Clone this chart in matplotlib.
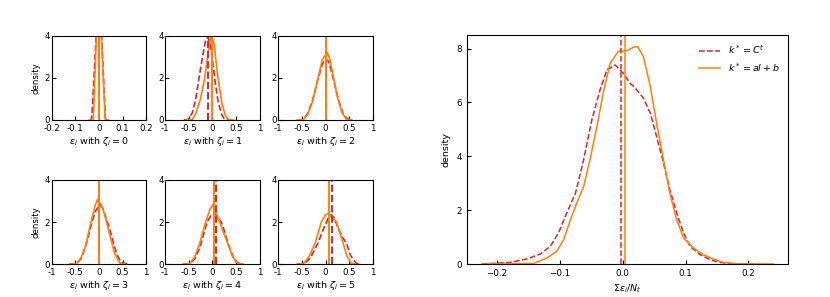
import numpy as np
import matplotlib
matplotlib.use("Agg")
import matplotlib.pyplot as plt

# density curves per panel
zeta = [0, 1, 2, 3, 4, 5]

red_x = [
    [-0.04, -0.033, -0.030, -0.012, -0.007, -0.001, 0.006, 0.011, 0.027, 0.030, 0.04],
    [-0.6, -0.51, -0.42, -0.35, -0.28, -0.2, -0.14, -0.09, -0.04, 0.05, 0.12, 0.2, 0.26, 0.35],
    [-0.6, -0.48, -0.38, -0.28, -0.16, -0.07, 0.0, 0.06, 0.12, 0.19, 0.28, 0.37, 0.46, 0.58],
    [-0.62, -0.48, -0.38, -0.28, -0.16, -0.08, -0.02, 0.03, 0.08, 0.15, 0.22, 0.3, 0.38, 0.47, 0.6],
    [-0.6, -0.47, -0.37, -0.26, -0.11, -0.03, 0.03, 0.08, 0.13, 0.19, 0.26, 0.33, 0.42, 0.5, 0.6],
    [-0.6, -0.45, -0.32, -0.16, -0.03, 0.06, 0.12, 0.18, 0.26, 0.35, 0.44, 0.53, 0.65, 0.75],
]
red_y = [
    [0, 0, 0.2, 4.0, 14, 24, 14, 4.0, 0.1, 0, 0],
    [0, 0.02, 0.35, 1.0, 2.0, 3.1, 3.8, 3.95, 3.6, 2.0, 0.9, 0.25, 0.03, 0],
    [0, 0.02, 0.3, 0.9, 1.95, 2.65, 2.9, 2.8, 2.35, 1.7, 0.9, 0.3, 0.05, 0],
    [0, 0.02, 0.25, 0.85, 1.9, 2.5, 2.7, 2.8, 2.65, 2.2, 1.7, 1.05, 0.45, 0.07, 0],
    [0, 0.02, 0.25, 0.8, 2.0, 2.3, 2.35, 2.38, 2.15, 2.0, 1.55, 1.0, 0.45, 0.1, 0],
    [0, 0.02, 0.3, 1.0, 1.75, 2.2, 2.34, 2.2, 1.75, 1.3, 1.0, 0.4, 0.03, 0],
]
orange_x = [
    [-0.04, -0.026, -0.024, -0.011, -0.006, 0.0, 0.006, 0.010, 0.026, 0.028, 0.04],
    [-0.55, -0.42, -0.35, -0.25, -0.16, -0.08, -0.02, 0.04, 0.12, 0.2, 0.27, 0.33, 0.37, 0.45],
    [-0.6, -0.47, -0.38, -0.28, -0.16, -0.07, -0.02, 0.01, 0.04, 0.09, 0.17, 0.26, 0.35, 0.44, 0.55],
    [-0.62, -0.47, -0.38, -0.28, -0.17, -0.08, -0.03, 0.0, 0.04, 0.1, 0.16, 0.25, 0.33, 0.44, 0.55],
    [-0.62, -0.48, -0.38, -0.27, -0.14, -0.05, 0.01, 0.05, 0.08, 0.14, 0.22, 0.33, 0.43, 0.54, 0.65],
    [-0.6, -0.47, -0.35, -0.22, -0.09, 0.0, 0.07, 0.13, 0.23, 0.3, 0.37, 0.45, 0.54, 0.62],
]
orange_y = [
    [0, 0, 0.1, 4.0, 15, 25, 15, 4.0, 0.1, 0, 0],
    [0, 0.02, 0.3, 1.0, 2.0, 3.3, 4.1, 3.6, 2.0, 0.85, 0.25, 0.05, 0.01, 0],
    [0, 0.02, 0.25, 0.85, 2.0, 2.85, 3.05, 3.05, 3.2, 2.9, 2.0, 1.0, 0.35, 0.04, 0],
    [0, 0.02, 0.3, 0.9, 2.0, 2.8, 3.08, 2.85, 2.88, 2.5, 2.0, 1.2, 0.5, 0.05, 0],
    [0, 0.02, 0.3, 0.95, 2.0, 2.6, 2.82, 2.55, 2.4, 2.1, 1.6, 0.95, 0.35, 0.03, 0],
    [0, 0.02, 0.35, 1.0, 2.0, 2.35, 2.42, 2.25, 2.0, 1.5, 1.0, 0.4, 0.03, 0],
]
red_mean = [-0.002, -0.10, 0.0, 0.005, 0.075, 0.13]
orange_mean = [0.0, 0.0, 0.0, 0.005, 0.04, 0.07]

# total error
tot_red_x = [-0.224, -0.179, -0.152, -0.131, -0.115, -0.102, -0.089, -0.075, -0.062, -0.049,
             -0.036, -0.025, -0.012, 0.001, 0.012, 0.020, 0.033, 0.044, 0.054, 0.065,
             0.075, 0.086, 0.097, 0.107, 0.123, 0.139, 0.155, 0.176, 0.208]
tot_red_y = [0.0, 0.06, 0.19, 0.37, 0.66, 1.15, 1.89, 2.63, 3.87, 5.35,
             6.46, 7.21, 7.39, 7.08, 6.71, 6.53, 6.16, 5.60, 4.73, 3.75,
             2.76, 1.89, 1.15, 0.66, 0.35, 0.16, 0.06, 0.01, 0.0]
tot_orange_x = [-0.224, -0.142, -0.121, -0.105, -0.094, -0.083, -0.073, -0.062, -0.052, -0.041,
                -0.031, -0.020, -0.007, 0.007, 0.017, 0.024, 0.033, 0.044, 0.054, 0.065,
                0.075, 0.086, 0.097, 0.113, 0.128, 0.144, 0.160, 0.181, 0.240]
tot_orange_y = [0.0, 0.02, 0.22, 0.47, 0.90, 1.64, 2.26, 2.88, 3.87, 5.10,
                6.34, 7.45, 7.89, 7.92, 8.05, 8.07, 7.70, 6.59, 5.23, 3.87,
                2.63, 1.64, 0.96, 0.59, 0.35, 0.19, 0.06, 0.01, 0.0]
tot_red_mean = -0.003
tot_orange_mean = 0.004

RED = "#d62728"
ORANGE = "#ff7f0e"

fig = plt.figure(figsize=(8.3, 2.97), dpi=100)

lefts = [0.0623, 0.1988, 0.3353]
bottoms = [0.596, 0.111]
w, h = 0.1139, 0.283

for i, z in enumerate(zeta):
    row, col = divmod(i, 3)
    ax = fig.add_axes([lefts[col], bottoms[row], w, h])
    ax.plot(red_x[i], red_y[i], "--", color=RED, lw=1.2)
    ax.plot(orange_x[i], orange_y[i], "-", color=ORANGE, lw=1.2)
    ax.axvline(red_mean[i], color=RED, ls="--", lw=1.4)
    ax.axvline(orange_mean[i], color=ORANGE, lw=1.4)
    if z == 0:
        ax.set_xlim(-0.2, 0.2)
        ax.set_xticks([-0.2, -0.1, 0, 0.1, 0.2])
        ax.set_xticklabels(["-0.2", "-0.1", "0", "0.1", "0.2"])
    else:
        ax.set_xlim(-1, 1)
        ax.set_xticks([-1, -0.5, 0, 0.5, 1])
        ax.set_xticklabels(["-1", "-0.5", "0", "0.5", "1"])
    ax.set_ylim(0, 4)
    ax.set_yticks([0, 2, 4])
    ax.set_yticklabels(["0", "2", "4"])
    ax.tick_params(direction="in", labelsize=6.2, length=3)
    ax.tick_params(axis="x", pad=3)
    ax.tick_params(axis="y", pad=1)
    ax.set_xlabel(r"$\varepsilon_i$ with $\zeta_i = %d$" % z, fontsize=6.8, labelpad=1)
    if col == 0:
        ax.set_ylabel("density", fontsize=6.2, labelpad=3)

# right panel
ax = fig.add_axes([0.5623, 0.111, 0.3871, 0.771])
ax.plot(tot_red_x, tot_red_y, "--", color=RED, lw=1.1, label=r"$k^*=C^t$")
ax.plot(tot_orange_x, tot_orange_y, "-", color=ORANGE, lw=1.1, label=r"$k^*=al+b$")
ax.axvline(tot_red_mean, color=RED, ls="--", lw=1.1)
ax.axvline(tot_orange_mean, color=ORANGE, lw=1.1)
ax.set_xlim(-0.248, 0.263)
ax.set_ylim(0, 8.5)
ax.set_xticks([-0.2, -0.1, 0.0, 0.1, 0.2])
ax.set_yticks([0, 2, 4, 6, 8])
ax.tick_params(direction="in", labelsize=6.3, length=3)
ax.set_xlabel(r"$\Sigma\varepsilon_i/N_t$", fontsize=6.8, labelpad=3)
ax.set_ylabel("density", fontsize=6.8)
ax.legend(loc="upper right", frameon=False, fontsize=6.8, handlelength=2.2)

fig.savefig("out.png", dpi=100)
